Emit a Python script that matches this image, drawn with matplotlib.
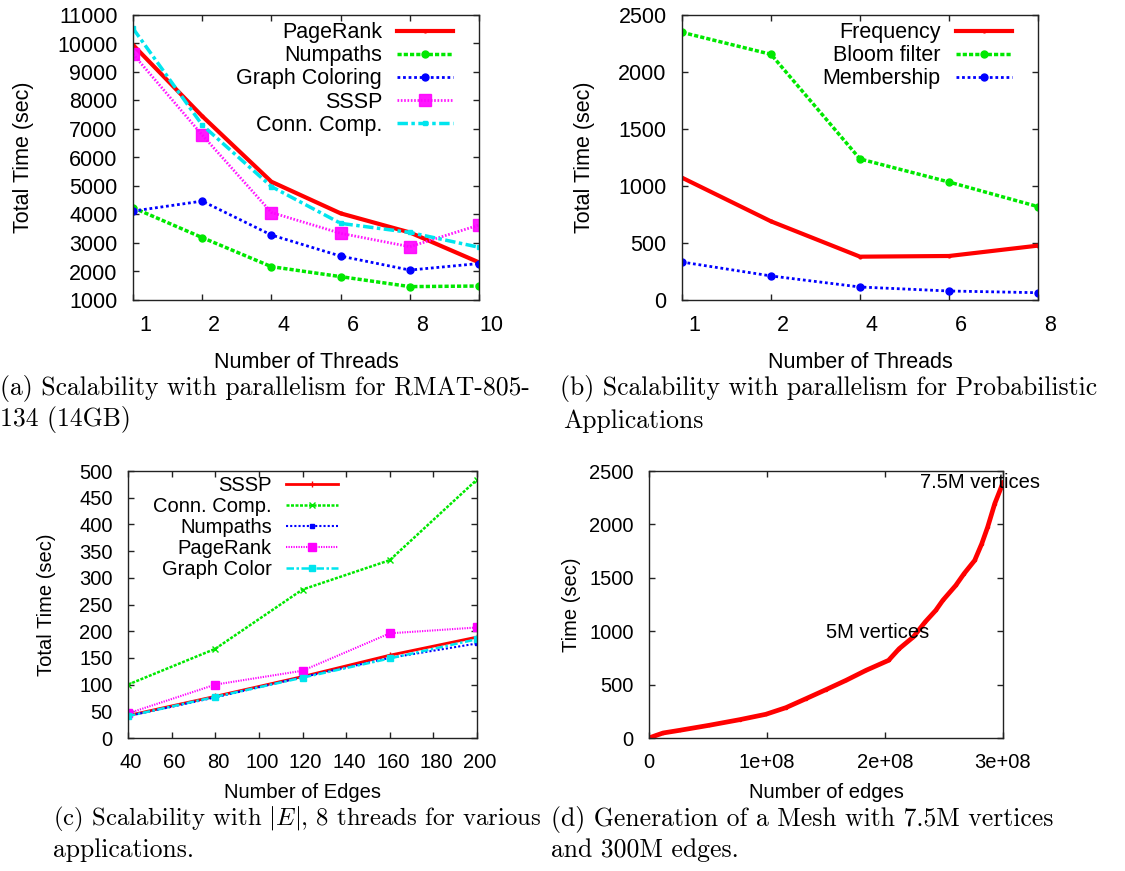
import matplotlib
matplotlib.use("Agg")
import matplotlib.pyplot as plt
import matplotlib.transforms as mtransforms

plt.rcParams['font.family'] = ['Liberation Sans', 'DejaVu Sans']
plt.rcParams['mathtext.fontset'] = 'cm'

# (a) RMAT-805-134: total time vs number of threads
threads_a = ["1", "2", "4", "6", "8", "10"]
pagerank_a = [9950, 7450, 5150, 4040, 3370, 2320]
numpaths_a = [4240, 3190, 2170, 1820, 1470, 1490]
coloring_a = [4120, 4470, 3280, 2540, 2050, 2280]
sssp_a = [9630, 6790, 4070, 3340, 2870, 3630]
conncomp_a = [10530, 7140, 4980, 3690, 3370, 2850]

# (b) probabilistic applications
threads_b = ["1", "2", "4", "6", "8"]
frequency_b = [1073, 690, 380, 386, 477]
bloom_b = [2348, 2155, 1237, 1035, 819]
membership_b = [333, 211, 114, 79, 64]

# (c) scalability with |E|, 8 threads
edges_c = [40, 80, 120, 160, 200]
sssp_c = [42, 78, 115, 155, 189]
conncomp_c = [100, 167, 278, 333, 484]
numpaths_c = [41, 76, 114, 150, 177]
pagerank_c = [46, 100, 126, 196, 207]
color_c = [41, 77, 113, 149, 185]

# (d) mesh generation, 7.5M vertices / 300M edges
mesh_edges = [0, 6.2e6, 1.2e7, 2.6e7, 5.1e7, 7.7e7, 9.9e7, 1.16e8, 1.33e8,
              1.50e8, 1.67e8, 1.84e8, 2.03e8, 2.12e8, 2.24e8, 2.34e8, 2.43e8,
              2.49e8, 2.60e8, 2.67e8, 2.76e8, 2.82e8, 2.87e8, 2.93e8, 3.0e8]
mesh_time = [0, 25, 47, 72, 119, 172, 222, 284, 368, 453, 540, 634, 727, 836,
             946, 1086, 1195, 1289, 1429, 1539, 1663, 1819, 1975, 2194, 2390]

W, H = 1125, 871
fig = plt.figure(figsize=(W / 100, H / 100), dpi=100)

RED = '#ff0000'
GREEN = '#00e800'
BLUE = '#0000ff'
MAGENTA = '#ff00ff'
CYAN = '#00e5ee'

FS_TOP = 15.5
FS_BOT = 14.5

def px_axes(left, top, right, bottom):
    return fig.add_axes([left / W, (H - bottom) / H, (right - left) / W, (bottom - top) / H])

def style_axes(ax, fs):
    for s in ax.spines.values():
        s.set_linewidth(1.0)
        s.set_color('#222222')
    ax.tick_params(direction='in', length=4, width=1, top=True, right=True,
                   labelsize=fs, pad=11, color='#222222')

def shift_xlabels(ax, dx):
    off = mtransforms.ScaledTranslation(dx / 100, 0, fig.dpi_scale_trans)
    for lab in ax.get_xticklabels():
        lab.set_transform(lab.get_transform() + off)

def gp_legend(ax, x, y, fs):
    # gnuplot-like key: right aligned labels, sample line on the right
    ax.legend(loc='upper right', bbox_to_anchor=(x, y), frameon=False,
              markerfirst=False, handlelength=2.6, labelspacing=0.1,
              handletextpad=0.7, borderpad=0, borderaxespad=0, fontsize=fs)

# ---- (a)
ax = px_axes(133, 15, 479, 300)
xa = range(len(threads_a))
ax.plot(xa, pagerank_a, color=RED, lw=3, marker='.', ms=4, label='PageRank')
ax.plot(xa, numpaths_a, color=GREEN, lw=2.5, ls=(0, (1.2, 0.6)), marker='o', ms=5, label='Numpaths')
ax.plot(xa, coloring_a, color=BLUE, lw=2, ls=(0, (1, 1)), marker='o', ms=5, label='Graph Coloring')
ax.plot(xa, sssp_a, color=MAGENTA, lw=2, ls=(0, (0.6, 0.6)), marker='s', ms=8, alpha=0.9, label='SSSP')
ax.plot(xa, conncomp_a, color=CYAN, lw=2.5, ls=(0, (3, 1, 1, 1)), marker='s', ms=3.5, label='Conn. Comp.')
ax.set_xlim(0, len(threads_a) - 1)
ax.set_ylim(1000, 11000)
ax.set_yticks(range(1000, 11001, 1000))
ax.set_xticks(list(xa), threads_a)
style_axes(ax, FS_TOP)
shift_xlabels(ax, 12)
ax.set_ylabel('Total Time (sec)', fontsize=FS_TOP, labelpad=17)
ax.set_xlabel('Number of Threads', fontsize=FS_TOP, labelpad=11)
gp_legend(ax, 0.925, 0.975, FS_TOP)

# ---- (b)
ax = px_axes(682, 15, 1038, 300)
xb = range(len(threads_b))
ax.plot(xb, frequency_b, color=RED, lw=3, marker='.', ms=4, label='Frequency')
ax.plot(xb, bloom_b, color=GREEN, lw=2.5, ls=(0, (1.2, 0.6)), marker='o', ms=5, label='Bloom filter')
ax.plot(xb, membership_b, color=BLUE, lw=2, ls=(0, (1, 1)), marker='o', ms=5, label='Membership')
ax.set_xlim(0, len(threads_b) - 1)
ax.set_ylim(0, 2500)
ax.set_yticks(range(0, 2501, 500))
ax.set_xticks(list(xb), threads_b)
style_axes(ax, FS_TOP)
shift_xlabels(ax, 12)
ax.set_ylabel('Total Time (sec)', fontsize=FS_TOP, labelpad=17)
ax.set_xlabel('Number of Threads', fontsize=FS_TOP, labelpad=11)
gp_legend(ax, 0.926, 0.975, FS_TOP)

# ---- (c)
ax = px_axes(128, 471, 477, 738)
ax.plot(edges_c, sssp_c, color=RED, lw=2, marker='+', ms=4, label='SSSP')
ax.plot(edges_c, conncomp_c, color=GREEN, lw=1.8, ls=(0, (1.2, 0.6)), marker='x', ms=4, label='Conn. Comp.')
ax.plot(edges_c, numpaths_c, color=BLUE, lw=1.5, ls=(0, (1, 1)), marker='s', ms=3.5, label='Numpaths')
ax.plot(edges_c, pagerank_c, color=MAGENTA, lw=1.5, ls=(0, (0.6, 0.6)), marker='s', ms=6, label='PageRank')
ax.plot(edges_c, color_c, color=CYAN, lw=1.8, ls=(0, (3, 1, 1, 1)), marker='s', ms=4.5, label='Graph Color')
ax.set_xlim(40, 200)
ax.set_ylim(0, 500)
ax.set_xticks(range(40, 201, 20))
ax.set_yticks(range(0, 501, 50))
style_axes(ax, FS_BOT)
shift_xlabels(ax, 3)
ax.set_ylabel('Total Time (sec)', fontsize=FS_BOT, labelpad=17)
ax.set_xlabel('Number of Edges', fontsize=FS_BOT, labelpad=8)
gp_legend(ax, 0.602, 0.98, FS_BOT)

# ---- (d)
ax = px_axes(649, 471, 1003, 738)
ax.plot(mesh_edges, mesh_time, color=RED, lw=3.4, marker='.', ms=3)
ax.set_xlim(0, 3e8)
ax.set_ylim(0, 2500)
ax.set_xticks([0, 1e8, 2e8, 3e8], ['0', '1e+08', '2e+08', '3e+08'])
ax.set_yticks(range(0, 2501, 500))
style_axes(ax, FS_BOT)
ax.set_ylabel('Time (sec)', fontsize=FS_BOT, labelpad=6)
ax.set_xlabel('Number of edges', fontsize=FS_BOT, labelpad=8)
ax.text(2.30e8, 2390, '7.5M vertices', fontsize=FS_BOT, va='center', ha='left')
ax.text(1.50e8, 990, '5M vertices', fontsize=FS_BOT, va='center', ha='left')

# ---- captions
cap = dict(family='cmr10', fontsize=18.5, va='center', ha='left')
fig.text(0 / W, 1 - 388 / H, '(a) Scalability with parallelism for RMAT-805-', **cap)
fig.text(0 / W, 1 - 419 / H, '134 (14GB)', **cap)
fig.text(560 / W, 1 - 388 / H, '(b) Scalability with parallelism for Probabilistic', **cap)
fig.text(563 / W, 1 - 421 / H, 'Applications', **cap)
fig.text(53 / W, 1 - 819 / H, r'(c) Scalability with $|E|$, 8 threads for various',
         **{**cap, 'fontsize': 17.8})
fig.text(53 / W, 1 - 850 / H, 'applications.', **cap)
fig.text(551 / W, 1 - 819 / H, '(d) Generation of a Mesh with 7.5M vertices', **cap)
fig.text(551 / W, 1 - 850 / H, 'and 300M edges.', **cap)

fig.savefig('out.png', dpi=100)
